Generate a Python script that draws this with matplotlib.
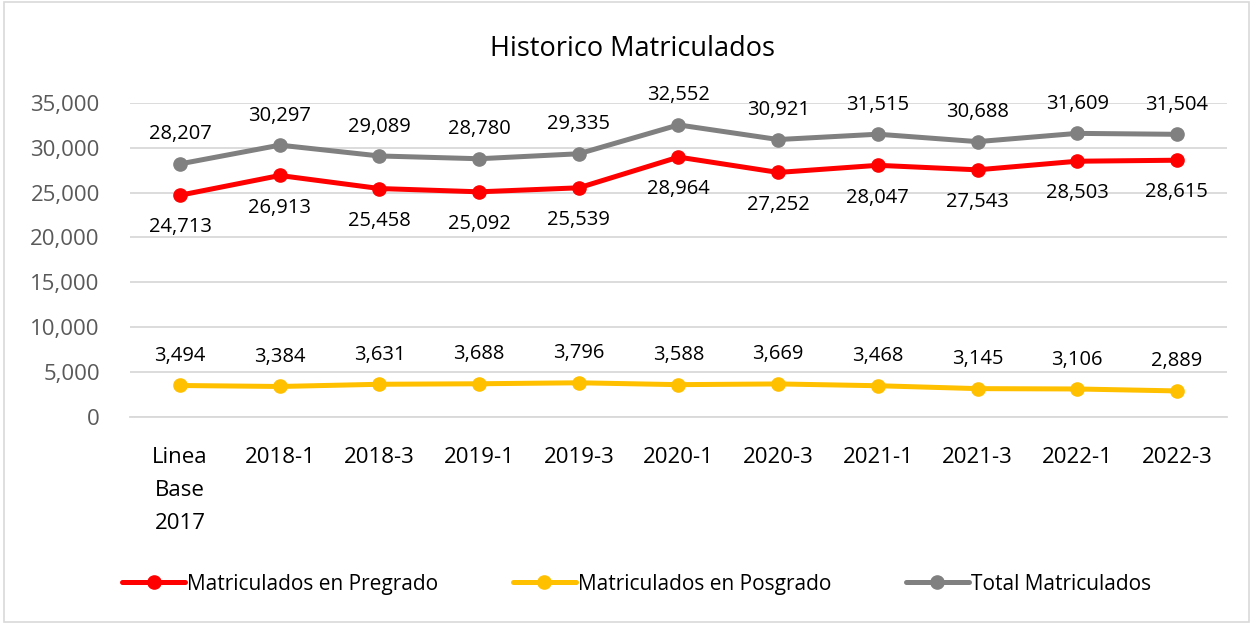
import matplotlib.pyplot as plt
from matplotlib.ticker import FuncFormatter

# Data
periods = ["Linea\nBase\n2017", "2018-1", "2018-3", "2019-1", "2019-3", "2020-1",
           "2020-3", "2021-1", "2021-3", "2022-1", "2022-3"]
pregrado = [24713, 26913, 25458, 25092, 25539, 28964, 27252, 28047, 27543, 28503, 28615]
posgrado = [3494, 3384, 3631, 3688, 3796, 3588, 3669, 3468, 3145, 3106, 2889]
total = [28207, 30297, 29089, 28780, 29335, 32552, 30921, 31515, 30688, 31609, 31504]

plt.rcParams['font.family'] = ['Open Sans', 'DejaVu Sans']

fig = plt.figure(figsize=(12.53, 6.24), dpi=100)
ax = fig.add_axes([0.104, 0.332, 0.875, 0.503])

x = list(range(len(periods)))
series = [
    (pregrado, "#FF0000", "Matriculados en Pregrado", -1),
    (posgrado, "#FFC000", "Matriculados en Posgrado", 1),
    (total, "#808080", "Total Matriculados", 1),
]
for values, color, name, side in series:
    ax.plot(x, values, color=color, linewidth=3.6, marker='o', markersize=9.5,
            label=name, solid_capstyle='round')
    for xi, v in zip(x, values):
        ax.annotate(f"{v:,}", (xi, v), xytext=(0, 14 * side if side > 0 else -16),
                    textcoords='offset points',
                    ha='center', va='bottom' if side > 0 else 'top', fontsize=14.5,
                    color='#000000')

ax.set_ylim(0, 35000)
ax.set_xlim(-0.5, len(periods) - 0.5)
ax.set_yticks(range(0, 35001, 5000))
ax.yaxis.set_major_formatter(FuncFormatter(lambda v, p: f"{int(v):,}"))
ax.grid(axis='y', color='#D9D9D9', linewidth=1.3)
ax.set_axisbelow(True)
for s in ['top', 'right', 'left']:
    ax.spines[s].set_visible(False)
ax.spines['bottom'].set_color('#D9D9D9')
ax.spines['bottom'].set_linewidth(1.3)
ax.tick_params(axis='y', length=0, labelsize=16, labelcolor='#595959', pad=22)
ax.tick_params(axis='x', length=0, labelsize=16, labelcolor='#000000', pad=22)
ax.set_xticks(x)
ax.set_xticklabels(periods, linespacing=1.75)

fig.text(0.505, 0.922, "Historico Matriculados", ha='center', va='center', fontsize=19.5)

fig.legend(loc='center', bbox_to_anchor=(0.508, 0.064), ncol=3, frameon=False,
           fontsize=15, handlelength=3, handletextpad=0.1, columnspacing=3.6)

# light border around the chart
fig.patches.append(plt.Rectangle((0.003, 0.003), 0.994, 0.994, transform=fig.transFigure,
                                 fill=False, edgecolor='#D9D9D9', linewidth=1.2))

fig.savefig("out.png", dpi=100)
